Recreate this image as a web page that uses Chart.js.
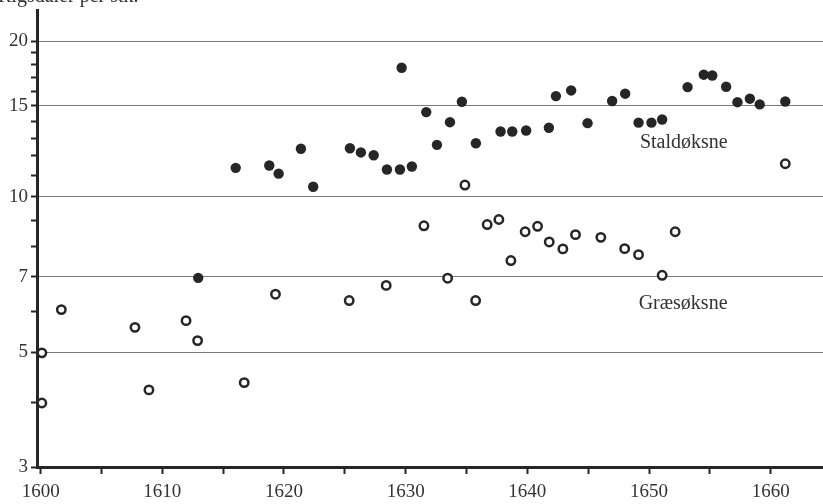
<!DOCTYPE html>
<html>
<head>
<meta charset="utf-8">
<script src="https://cdn.jsdelivr.net/npm/chart.js@4"></script>
<style>
  html, body { margin: 0; padding: 0; background: #ffffff; }
  #wrap { width: 823px; height: 504px; position: relative; }
</style>
</head>
<body>
<div id="wrap"><canvas id="c" width="823" height="504"></canvas></div>
<script>
// ---- data ----
const staldYears = [1612.95,1616.03,1618.79,1619.56,1621.39,1622.4,1625.42,1626.32,1627.37,1628.46,1629.53,1629.67,1630.51,1631.69,1632.57,1633.64,1634.62,1635.77,1637.8,1638.76,1639.9,1641.77,1642.35,1643.6,1644.95,1646.97,1648.04,1649.14,1650.2,1651.08,1653.17,1654.5,1655.2,1656.34,1657.27,1658.29,1659.1,1661.2];
const staldValues = [6.97,11.38,11.5,11.09,12.39,10.46,12.42,12.19,12.04,11.3,11.3,17.78,11.45,14.59,12.61,13.95,15.28,12.7,13.38,13.38,13.44,13.61,15.67,16.07,13.89,15.33,15.84,13.92,13.92,14.12,16.31,17.24,17.18,16.34,15.25,15.49,15.1,15.3];

const graesYears = [1600.1,1600.1,1601.7,1607.75,1608.9,1611.95,1612.9,1616.73,1619.3,1625.36,1628.4,1631.5,1633.45,1634.87,1635.75,1636.7,1637.66,1638.65,1639.82,1640.84,1641.8,1642.92,1643.96,1646.04,1648.0,1649.14,1651.08,1652.15,1661.2];
const graesValues = [4.99,3.99,6.05,5.59,4.23,5.76,5.27,4.37,6.48,6.3,6.74,8.79,6.96,10.54,6.3,8.84,9.04,7.53,8.56,8.77,8.18,7.93,8.45,8.35,7.94,7.73,7.05,8.56,11.59];

const yTickValues = [3,4,5,6,7,8,9,10,11,12,13,14,15,16,17,18,19,20];
const yLabelValues = [3,5,7,10,15,20];
const yGridValues = [5,7,10,15,20];
const xTickValues = [1600,1605,1610,1615,1620,1625,1630,1635,1640,1645,1650,1655,1660];
const xLabelValues = [1600,1610,1620,1630,1640,1650,1660];

const seriesLabels = ['Staldøksne', 'Græsøksne'];
const seriesLabelAt = [[1652.86, 12.74], [1652.8, 6.22]];
const unitTitle = 'Rigsdaler per stk.';

// ---- chart ----
const INK = '#262626';
const FONT = "'Liberation Serif', 'DejaVu Serif', serif";

const toPts = (xs, ys) => xs.map((x, i) => ({x: x, y: ys[i]}));

const textPlugin = {
  id: 'texts',
  afterDatasetsDraw(chart) {
    const {ctx, scales} = chart;
    ctx.save();
    ctx.fillStyle = '#333';
    ctx.font = '20px ' + FONT;
    ctx.textAlign = 'center';
    ctx.textBaseline = 'middle';
    seriesLabels.forEach((t, i) => {
      ctx.fillText(t, scales.x.getPixelForValue(seriesLabelAt[i][0]), scales.y.getPixelForValue(seriesLabelAt[i][1]));
    });
    ctx.textAlign = 'left';
    ctx.textBaseline = 'alphabetic';
    ctx.fillText(unitTitle, -2, 2);
    ctx.restore();
  }
};

new Chart(document.getElementById('c'), {
  type: 'scatter',
  data: {
    datasets: [
      {
        label: seriesLabels[0],
        data: toPts(staldYears, staldValues),
        pointStyle: 'circle',
        pointRadius: 5.2,
        pointBackgroundColor: INK,
        pointBorderColor: INK,
        pointBorderWidth: 0,
        clip: false
      },
      {
        label: seriesLabels[1],
        data: toPts(graesYears, graesValues),
        pointStyle: 'circle',
        pointRadius: 4.2,
        pointBackgroundColor: '#ffffff',
        pointBorderColor: INK,
        pointBorderWidth: 2.5,
        clip: false
      }
    ]
  },
  options: {
    responsive: false,
    animation: false,
    devicePixelRatio: 1,
    layout: { autoPadding: false, padding: { top: 10, right: 0, left: 0, bottom: 0 } },
    plugins: { legend: { display: false }, tooltip: { enabled: false }, title: { display: false } },
    scales: {
      x: {
        type: 'linear',
        min: 1599.7,
        max: 1664.3,
        afterBuildTicks(scale) { scale.ticks = xTickValues.map(v => ({value: v})); },
        afterFit(scale) { scale.height = 37; scale.paddingLeft = 0; scale.paddingRight = 0; },
        ticks: {
          autoSkip: false,
          maxRotation: 0,
          padding: 7,
          color: '#333',
          font: { family: FONT, size: 19 },
          callback: v => xLabelValues.includes(v) ? String(v) : ''
        },
        grid: {
          drawOnChartArea: false,
          drawTicks: true,
          tickLength: 7,
          tickWidth: 2,
          tickColor: INK
        },
        border: { display: true, color: INK, width: 3 }
      },
      y: {
        type: 'logarithmic',
        min: 3,
        max: 23,
        afterBuildTicks(scale) { scale.ticks = yTickValues.map(v => ({value: v})); },
        afterFit(scale) { scale.width = 37; scale.paddingTop = 0; scale.paddingBottom = 0; },
        ticks: {
          autoSkip: false,
          padding: 3,
          color: '#333',
          font: { family: FONT, size: 19 },
          callback: v => yLabelValues.includes(v) ? String(v) : ''
        },
        grid: {
          drawOnChartArea: true,
          drawTicks: true,
          tickLength: 6,
          tickWidth: 2,
          tickColor: INK,
          lineWidth: 1,
          color: c => (c.tick && yGridValues.includes(c.tick.value)) ? '#7a7a7a' : 'rgba(0,0,0,0)'
        },
        border: { display: true, color: INK, width: 3 }
      }
    }
  },
  plugins: [textPlugin]
});
</script>
</body>
</html>
